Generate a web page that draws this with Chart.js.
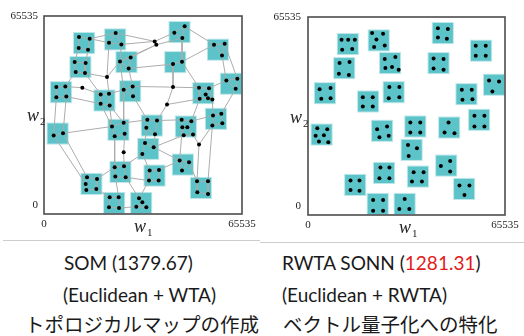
<!DOCTYPE html>
<html>
<head>
<meta charset="utf-8">
<script src="https://cdn.jsdelivr.net/npm/chart.js@4.4.1/dist/chart.umd.min.js"></script>
<style>
  html, body { margin: 0; padding: 0; background: #fff; }
  #wrap { position: relative; width: 524px; height: 336px; overflow: hidden; background: #fff; }
  canvas { position: absolute; top: 0; }
  .ax { position: absolute; font-family: "Liberation Serif", "DejaVu Serif", serif; font-size: 18px; line-height: 18px; color: #222; white-space: nowrap; }
  .ax i { font-style: italic; }
  .ax sub { font-size: 11px; vertical-align: baseline; position: relative; top: 4px; margin-left: 1px; }
  .cap { position: absolute; font-family: Lato, "Noto Sans", sans-serif; font-size: 19px; line-height: 22px; color: #1a1a1a; white-space: nowrap; }
  .cap.jp { font-family: "Noto Sans CJK JP", sans-serif; font-size: 19.5px; }
  .red { color: #e31b1b; }
  .rule { position: absolute; height: 1px; background: #cdcdcd; }
</style>
</head>
<body>
<div id="wrap">
  <canvas id="som" width="262" height="240" style="left:0"></canvas>
  <canvas id="rwta" width="262" height="240" style="left:262px"></canvas>

  <div class="ax" style="left:27px;top:106px"><i>w</i><sub>2</sub></div>
  <div class="ax" style="left:134px;top:217px"><i>w</i><sub>1</sub></div>
  <div class="ax" style="left:290px;top:108px"><i>w</i><sub>2</sub></div>
  <div class="ax" style="left:399px;top:218px"><i>w</i><sub>1</sub></div>

  <div class="rule" style="left:3px;top:240px;width:257px"></div>
  <div class="rule" style="left:260px;top:242px;width:264px"></div>

  <div class="cap" style="left:64px;top:252px">SOM (1379.67)</div>
  <div class="cap" style="left:63px;top:284px">(Euclidean + WTA)</div>
  <div class="cap jp" style="left:25px;top:313px">トポロジカルマップの作成</div>

  <div class="cap" style="left:282px;top:252px">RWTA SONN (<span class="red">1281.31</span>)</div>
  <div class="cap" style="left:282px;top:284px">(Euclidean + RWTA)</div>
  <div class="cap jp" style="left:283px;top:313px">ベクトル量子化への特化</div>
</div>

<script>
// Both axes run over the 16-bit range of the input space.
const axisTicks = [0, 65535];

// Centres of the 25 square input clusters (w1, w2).
const clusterX = [13260, 23540, 44860, 57570, 12040, 27290, 43430, 5640, 28510, 20000, 52710, 61880, 4530,
                  24640, 35690, 46960, 56910, 34480, 25300, 36580, 45970, 15690, 51940, 23210, 32160];
const clusterY = [56580, 57790, 60220, 54370, 48620, 50280, 50280, 40330, 40660, 37570, 40000, 43100, 26630,
                  27850, 29280, 28950, 31490, 21550, 13920, 12710, 16350, 9950, 8620, 3650, 3650];

// SOM reference vectors after training.
const somNeurons = [
  [11585, 58570], [15115, 58018], [11474, 54923], [14564, 54371],
  [23721, 59896], [21514, 56692], [25597, 56139],
  [36630, 57134], [37181, 56029],
  [43139, 60007], [46559, 62107], [45787, 58239],
  [56268, 56029], [59799, 56360], [58916, 52492],
  [10150, 50282], [13791, 49951], [10481, 46967], [13571, 46635],
  [28686, 51829], [25155, 50503], [28024, 48182],
  [42698, 49619], [45677, 50393],
  [20852, 45309],
  [4082, 41994], [7061, 42215], [4082, 38679], [7392, 38900],
  [12688, 41773],
  [26369, 41110], [29348, 42215], [29458, 39010],
  [18756, 39563], [21514, 39784], [18756, 36468], [21735, 35916],
  [42698, 41994], [40712, 36247],
  [51303, 41773], [54613, 41662], [53510, 39563], [51524, 38126], [54282, 38347], [55717, 37905],
  [60351, 44204], [63991, 44757], [63440, 41441],
  [3200, 25970], [6289, 26743],
  [22507, 28954], [26369, 30169], [23390, 25749], [26700, 26522],
  [34202, 31164], [37402, 30943], [33871, 28512], [36740, 26412],
  [45566, 31164], [48766, 30722], [45787, 28733], [47442, 28733], [46228, 26080], [49318, 26301],
  [55937, 32600], [58696, 33153], [55717, 29285], [59027, 30059],
  [51303, 22986], [26369, 20444],
  [33430, 23539], [36299, 22102], [32547, 19892],
  [23390, 15471], [26479, 15803], [23611, 12377], [27031, 12156],
  [34975, 14366], [38064, 14587], [34754, 11051], [37954, 11051],
  [44904, 17682], [47994, 17129], [45677, 14366],
  [14233, 12156], [17542, 11604], [13791, 9946], [14012, 7957], [17322, 8288],
  [50641, 10830], [54282, 10830], [50752, 7183], [54282, 6631],
  [21735, 5526], [24714, 5526], [21514, 2210], [24824, 1989],
  [31444, 5194], [32547, 3868], [30561, 2431], [33871, 2210]
];

// Neighbourhood links of the SOM lattice (index pairs into somNeurons).
const somEdges = [
  [0,1],[2,3],[0,2],[1,3],[4,5],[4,6],[5,6],[9,10],[10,11],[9,11],[12,13],[13,14],[12,14],
  [15,16],[17,18],[15,17],[16,18],[19,20],[20,21],[19,21],[22,23],
  [25,26],[27,28],[25,27],[26,28],[30,31],[31,32],[30,32],[33,34],[35,36],[33,35],[34,36],
  [39,40],[39,42],[40,41],[41,43],[42,43],[43,44],[40,44],[45,46],[46,47],[45,47],[48,49],
  [50,51],[50,52],[52,53],[51,53],[54,55],[54,56],[56,57],[55,57],
  [58,59],[58,60],[60,61],[61,59],[60,62],[62,63],[61,63],[64,65],[64,66],[66,67],[65,67],
  [70,71],[70,72],[73,74],[73,75],[75,76],[74,76],[77,78],[77,79],[79,80],[78,80],
  [81,82],[81,83],[82,83],[84,85],[84,86],[86,87],[87,88],[85,88],[89,90],[89,91],[91,92],[90,92],
  [93,94],[93,95],[95,96],[94,96],[97,98],[98,99],[98,100],[99,100],
  [1,5],[1,4],[4,7],[6,7],[7,9],[8,11],[8,19],[8,20],[10,12],[11,23],[13,46],[14,45],[12,23],
  [21,22],[22,37],[23,39],[37,31],[37,38],[37,39],[38,55],[38,42],[40,45],[44,64],[47,65],[42,59],
  [2,15],[3,16],[5,24],[6,20],[18,24],[24,20],[24,34],[17,26],[18,33],[26,29],[29,33],[28,35],
  [27,48],[28,49],[21,31],[20,30],[30,34],[30,51],[36,50],[35,50],[36,51],[32,54],[49,50],
  [48,86],[49,84],[51,54],[55,58],[59,64],[53,69],[69,74],[52,73],[56,70],[57,71],[62,71],
  [63,68],[68,66],[60,81],[68,89],[66,90],[72,74],[72,77],[71,81],[76,79],[78,81],[82,89],
  [73,85],[88,93],[75,94],[79,97],[96,99],[76,97]
];

// RWTA SONN reference vectors after training.
const rwtaNeurons = [
  [11162, 58018], [13372, 58018], [15582, 58018], [11383, 54702], [14698, 54923],
  [21328, 60228], [24975, 60007], [22765, 58128], [25528, 56139], [21991, 55587],
  [43209, 61775], [46525, 61554], [43209, 58791], [46193, 58349],
  [55808, 56029], [59123, 56029], [55808, 52713], [59123, 52713],
  [10498, 50282], [13814, 50614], [10277, 46746], [13593, 46304],
  [25528, 51608], [29064, 52271], [25749, 48624], [27959, 48956], [30169, 48072],
  [41773, 51829], [45088, 51608], [41773, 48514], [45088, 48072],
  [3868, 41662], [7515, 41994], [4420, 38457], [7515, 38679],
  [27075, 42325], [30390, 42325], [26854, 38679], [30390, 39010],
  [18234, 39010], [21549, 39010], [18234, 35916], [21549, 35916],
  [51166, 41441], [54481, 41441], [51387, 38126], [54702, 38347],
  [60228, 44535], [63543, 44204], [61333, 40889],
  [3094, 28733], [6410, 28401], [2542, 26191], [5304, 26412], [3647, 24312], [6741, 24091],
  [22986, 28401], [26301, 29285], [23760, 25749], [26854, 26191],
  [34037, 30611], [37352, 30611], [34037, 27296], [37352, 27296],
  [46746, 30611], [45420, 27296], [48735, 27075],
  [55366, 32821], [58681, 32821], [55366, 29285], [58681, 29285],
  [33264, 23207], [36247, 22102], [33485, 19560],
  [24091, 15692], [27075, 15692], [23760, 12156], [27075, 12156],
  [35142, 14145], [38457, 14145], [34590, 11051], [37905, 11051],
  [47298, 17903], [44204, 16245], [47298, 14366],
  [14145, 11383], [17129, 11383], [14145, 8288], [17129, 8067],
  [50393, 9725], [53708, 9725], [52050, 6631],
  [21660, 4973], [24975, 4973], [21660, 1437], [24975, 1437],
  [32158, 5304], [30390, 1989], [33706, 1989]
];

const tickFont = { family: '"Liberation Serif", "DejaVu Serif", serif', size: 11 };

// Plot frame around the chart area.
const framePlugin = {
  id: 'frame',
  afterDatasetsDraw(chart) {
    const { ctx, chartArea: a } = chart;
    ctx.save();
    ctx.strokeStyle = '#4d4d4d';
    ctx.lineWidth = 1.6;
    ctx.strokeRect(a.left, a.top, a.right - a.left, a.bottom - a.top);
    ctx.restore();
  }
};

function clusterSet(label, radius, color, order) {
  return {
    label,
    data: clusterX.map((x, i) => ({ x, y: clusterY[i] })),
    pointStyle: 'rect',
    pointRadius: radius,
    backgroundColor: color,
    borderWidth: 0,
    order,
    clip: 4
  };
}

function buildChart(id, neurons, edges, geo) {
  const datasets = [{
    label: 'neurons',
    data: neurons.map(([x, y]) => ({ x, y })),
    pointRadius: 2,
    pointStyle: 'circle',
    backgroundColor: '#000',
    borderWidth: 0,
    order: 0,
    clip: 4
  }];
  if (edges) {
    const seg = [];
    edges.forEach(([a, b]) => {
      seg.push({ x: neurons[a][0], y: neurons[a][1] },
               { x: neurons[b][0], y: neurons[b][1] },
               { x: null, y: null });
    });
    datasets.push({
      label: 'links',
      data: seg,
      showLine: true,
      spanGaps: false,
      borderColor: '#acacac',
      borderWidth: 1,
      pointRadius: 0,
      order: 1,
      clip: 4
    });
  }
  // soft-edged cyan squares: a faint halo under a solid core
  datasets.push(clusterSet('clusters', 14.2, '#5cc4c9', 2));
  datasets.push(clusterSet('cluster halo', 15.6, 'rgba(92,196,201,0.4)', 3));

  return new Chart(document.getElementById(id), {
    type: 'scatter',
    data: { datasets },
    plugins: [framePlugin],
    options: {
      responsive: false,
      devicePixelRatio: 1,
      animation: false,
      events: [],
      layout: { padding: { top: geo.top, right: geo.right, left: 0, bottom: 0 } },
      plugins: { legend: { display: false }, tooltip: { enabled: false } },
      scales: {
        x: {
          type: 'linear', min: 0, max: 65535,
          grid: { display: false, drawTicks: false },
          border: { display: false },
          afterBuildTicks: s => { s.ticks = axisTicks.map(v => ({ value: v })); },
          afterFit: s => { s.height = geo.xh; },
          ticks: {
            autoSkip: false, maxRotation: 0, padding: 4, color: '#222', font: tickFont,
            callback: v => String(v)
          }
        },
        y: {
          type: 'linear', min: 0, max: 65535,
          grid: { display: false, drawTicks: false },
          border: { display: false },
          afterBuildTicks: s => { s.ticks = axisTicks.map(v => ({ value: v })); },
          afterFit: s => { s.width = geo.yw; },
          ticks: {
            autoSkip: false, padding: geo.tp, color: '#222',
            font: Object.assign({}, tickFont, { lineHeight: '18px' }),
            // the zero label sits a little above the bottom edge
            callback: v => (v === 0 ? ['0', ''] : String(v))
          }
        }
      }
    }
  });
}

buildChart('som', somNeurons, somEdges, { top: 16, right: 20, xh: 26, yw: 44, tp: 6 });
buildChart('rwta', rwtaNeurons, null, { top: 17, right: 19, xh: 24, yw: 46, tp: 7 });
</script>
</body>
</html>
